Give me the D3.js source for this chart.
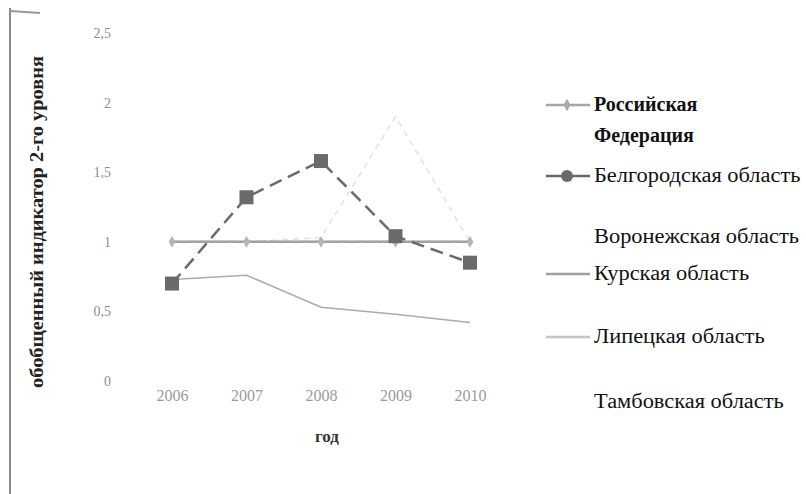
<!DOCTYPE html>
<html>
<head>
<meta charset="utf-8">
<script src="https://cdn.jsdelivr.net/npm/d3@7"></script>
<style>
  body { margin: 0; background: #fff; }
  text { font-family: "Liberation Serif", "DejaVu Serif", serif; }
</style>
</head>
<body>
<script>
// categories and series
const years = ['2006', '2007', '2008', '2009', '2010'];
const yTicks = [0, 0.5, 1, 1.5, 2, 2.5];
const yTickLabels = ['0', '0,5', '1', '1,5', '2', '2,5'];
const seriesNames = ['Российская Федерация', 'Белгородская область', 'Воронежская область',
  'Курская область', 'Липецкая область', 'Тамбовская область'];
const rf = [1, 1, 1, 1, 1];
const belgorod = [0.7, 1.32, 1.58, 1.04, 0.85];
const voronezh = [1, 1, 1.03, 1.9, 1];
const kursk = [1, 1, 1, 1, 1];
const lipetsk = [0.73, 0.76, 0.53, 0.48, 0.42];
const tambov = [1, 1, 1, 1, 1];

const W = 806, H = 494;
const svg = d3.select('body').append('svg')
  .attr('width', W)
  .attr('height', H);

svg.append('rect').attr('width', W).attr('height', H).attr('fill', '#fff');

// scan frame on the left edge
svg.append('line').attr('x1', 10).attr('x2', 10).attr('y1', 8).attr('y2', H)
  .attr('stroke', '#8a8a8a').attr('stroke-width', 2);
svg.append('line').attr('x1', 10).attr('x2', 40).attr('y1', 11).attr('y2', 13)
  .attr('stroke', '#999').attr('stroke-width', 2);

const x = d3.scalePoint().domain(years).range([172, 470]);
const y = d3.scaleLinear().domain([0, 2.5]).range([381, 33]);

// y tick labels (no axis line in the scan)
const yAxis = d3.axisLeft(y).tickValues(yTicks)
  .tickFormat((d, i) => yTickLabels[i]).tickSize(0).tickPadding(0);
const gy = svg.append('g').attr('transform', 'translate(111,0)').call(yAxis);
gy.select('.domain').remove();
gy.selectAll('text').attr('fill', '#8c8c8c').style('font-size', '14px')
  .style('font-family', '"Liberation Serif", serif');

const xAxis = d3.axisBottom(x).tickSize(0).tickPadding(0);
const gx = svg.append('g').attr('transform', 'translate(0,390)').call(xAxis);
gx.select('.domain').remove();
gx.selectAll('text').attr('fill', '#9a9a9a').style('font-size', '16px')
  .style('font-family', '"Liberation Serif", serif');

// axis titles
svg.append('text')
  .attr('transform', 'translate(43,222) rotate(-90)')
  .attr('text-anchor', 'middle')
  .attr('textLength', 332).attr('lengthAdjust', 'spacingAndGlyphs')
  .style('font-size', '19px').style('font-weight', 'bold')
  .attr('fill', '#222')
  .text('обобщенный индикатор 2-го уровня');
svg.append('text')
  .attr('x', 327).attr('y', 442)
  .attr('text-anchor', 'middle')
  .style('font-size', '17px').style('font-weight', 'bold')
  .attr('fill', '#333')
  .text('год');

const styles = [
  { color: '#a4a4a4', width: 2, dash: '10,4', marker: 'diamond' },
  { color: '#6a6a6a', width: 2.5, dash: '13,7', marker: 'square' },
  { color: '#e2e2e2', width: 1.5, dash: '6,5', marker: null },
  { color: '#a0a0a0', width: 2.5, dash: null, marker: null },
  { color: '#ababab', width: 1.5, dash: null, marker: null },
  { color: '#f4f4f4', width: 1.5, dash: null, marker: null }
];
const allSeries = [rf, belgorod, voronezh, kursk, lipetsk, tambov];

const line = d3.line().x((d, i) => x(years[i])).y(d => y(d));

// draw back to front so Белгородская sits on top
const order = [5, 2, 4, 3, 0, 1];
order.forEach(k => {
  const s = styles[k];
  svg.append('path')
    .datum(allSeries[k])
    .attr('d', line)
    .attr('fill', 'none')
    .attr('stroke', s.color)
    .attr('stroke-width', s.width)
    .attr('stroke-dasharray', s.dash);
  if (s.marker === 'square') {
    svg.selectAll(null).data(allSeries[k]).enter().append('rect')
      .attr('x', (d, i) => x(years[i]) - 7)
      .attr('y', d => y(d) - 7)
      .attr('width', 14).attr('height', 14)
      .attr('fill', s.color);
  } else if (s.marker === 'diamond') {
    svg.selectAll(null).data(allSeries[k]).enter().append('path')
      .attr('d', d3.symbol(d3.symbolDiamond, 40))
      .attr('transform', (d, i) => `translate(${x(years[i])},${y(d)})`)
      .attr('fill', '#b4b4b4');
  }
});

// legend; scanned text is stretched, so widen each label a bit
const legY = [111, 182, 243, 280, 343, 408];
const leg = svg.append('g');
function legText(g, str, yy, bold) {
  const t = g.append('text').attr('x', 594).attr('y', yy)
    .style('font-size', '20px').attr('fill', '#111')
    .style('font-weight', bold ? 'bold' : 'normal')
    .text(str);
  const w = t.node().getComputedTextLength();
  t.attr('textLength', w * (bold ? 1.0 : 1.12)).attr('lengthAdjust', 'spacingAndGlyphs');
}
seriesNames.forEach((name, k) => {
  const s = styles[k];
  const g = leg.append('g').attr('transform', `translate(0,${legY[k]})`);
  if (k !== 2 && k !== 5) {
    g.append('line').attr('x1', 546).attr('x2', 590).attr('y1', -6).attr('y2', -6)
      .attr('stroke', k === 4 ? '#c4c4c4' : s.color).attr('stroke-width', 2.5);
  }
  if (s.marker === 'square') {
    g.append('circle').attr('cx', 567).attr('cy', -6).attr('r', 6).attr('fill', s.color);
  } else if (s.marker === 'diamond') {
    g.append('path').attr('d', d3.symbol(d3.symbolDiamond, 45))
      .attr('transform', 'translate(567,-6)').attr('fill', '#aaa');
  }
  if (k === 0) {
    legText(g, 'Российская', 0, true);
    legText(g, 'Федерация', 31, true);
  } else {
    legText(g, name, 0, false);
  }
});
</script>
</body>
</html>
